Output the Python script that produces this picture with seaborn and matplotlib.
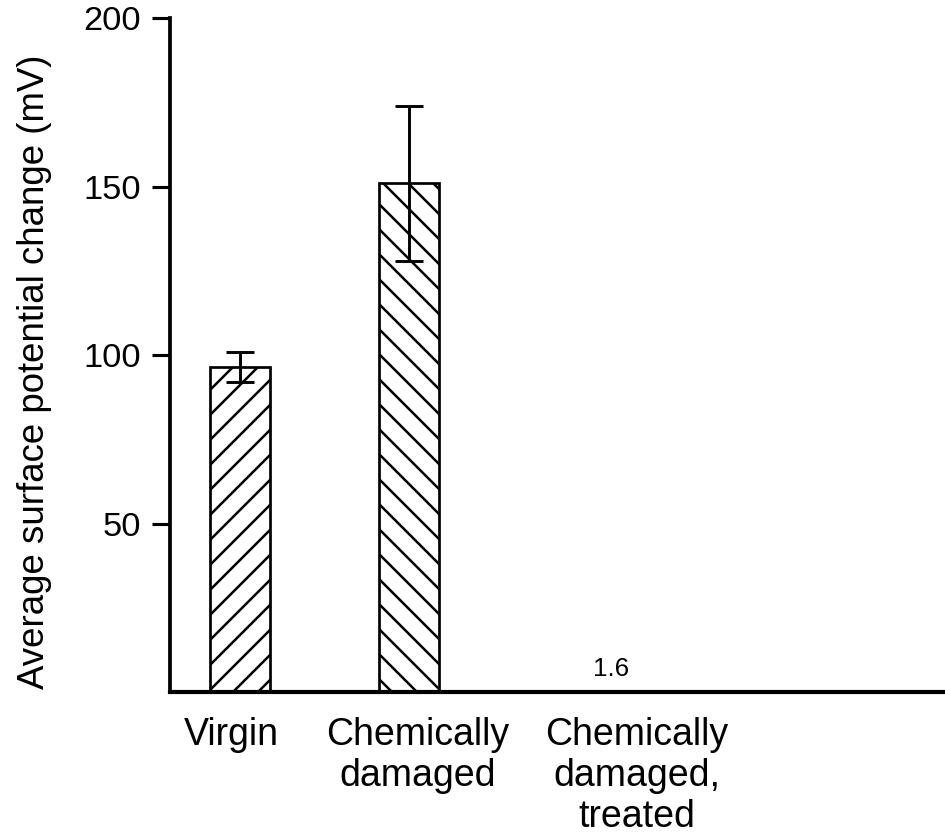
import matplotlib
matplotlib.use("Agg")
import matplotlib.pyplot as plt
import seaborn as sns
import pandas as pd

# Average surface potential change per sample condition
conditions = ["Virgin", "Chemically\ndamaged", "Chemically\ndamaged,\ntreated"]
potential_mv = [96.5, 151.0, 1.6]
error_mv = [4.5, 23.0, 0.0]
hatches = ["//", "\\\\", "//"]
y_ticks = [50, 100, 150, 200]

sns.set_theme(style="white")
plt.rcParams["font.family"] = ["Liberation Sans", "DejaVu Sans"]
plt.rcParams["text.color"] = "black"
plt.rcParams["axes.labelcolor"] = "black"
plt.rcParams["xtick.color"] = "black"
plt.rcParams["ytick.color"] = "black"
plt.rcParams["hatch.linewidth"] = 1.2
plt.rcParams["hatch.color"] = "black"

DPI = 150
fig = plt.figure(figsize=(945 / DPI, 839 / DPI), dpi=DPI)
ax = fig.add_axes([0.1799, 0.1752, 0.8201, 0.8033])

df = pd.DataFrame({"condition": conditions, "potential": potential_mv})
sns.barplot(data=df, x="condition", y="potential", order=conditions,
            color="white", edgecolor="black", linewidth=1.3,
            width=0.355, errorbar=None, ax=ax)

for patch, h in zip(ax.patches, hatches):
    patch.set_hatch(h)
    patch.set_facecolor("white")
# the treated sample's bar is too small to show against the baseline
ax.patches[2].set_edgecolor("white")

# error bars for the measured samples
xs = [p.get_x() + p.get_width() / 2 for p in ax.patches]
ax.errorbar(xs[:2], potential_mv[:2], yerr=error_mv[:2], fmt="none",
            ecolor="black", elinewidth=1.4, capsize=6.5, capthick=1.4,
            zorder=5)

# value label for the treated sample
ax.text(xs[2] + 0.195, potential_mv[2] + 1.6, f"{potential_mv[2]:g}",
        ha="center", va="bottom", fontsize=12.5)

ax.set_xlim(-0.414, 4.172)
ax.set_ylim(0, 200)
ax.set_yticks(y_ticks)
ax.set_yticklabels([str(t) for t in y_ticks], fontsize=16.5)
ax.set_xticks([-0.053, 1.053, 2.35])
ax.set_xticklabels(conditions, fontsize=18, ha="center", linespacing=1.17)
ax.tick_params(axis="x", length=0, pad=12)
ax.tick_params(axis="y", direction="out", length=8.5, width=1.5,
               color="black", pad=5.5, left=True)
ax.set_xlabel("")
ax.set_ylabel("Average surface potential change (mV)", fontsize=17.6)
ax.yaxis.set_label_coords(-0.152, 0.475)

sns.despine(ax=ax, top=True, right=True)
ax.spines["left"].set_linewidth(1.8)
ax.spines["left"].set_color("black")
ax.spines["bottom"].set_linewidth(2.0)
ax.spines["bottom"].set_color("black")

fig.savefig("out.png", dpi=DPI)
